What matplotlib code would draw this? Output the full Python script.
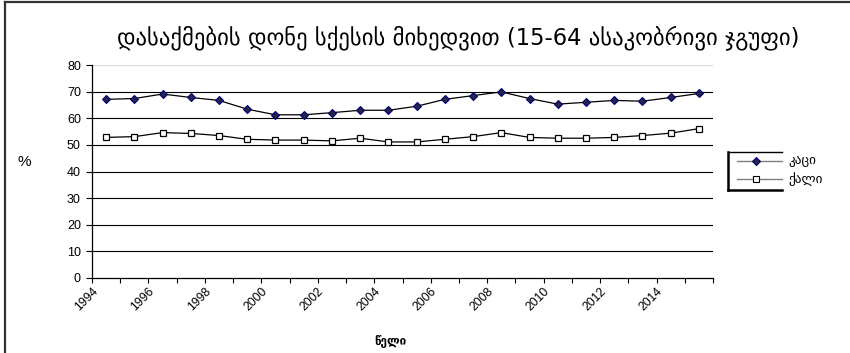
import numpy as np
import matplotlib
matplotlib.use("Agg")
import matplotlib.pyplot as plt
from matplotlib.lines import Line2D

# დასაქმების დონე, %
years = list(range(1994, 2016))
men = [67.1, 67.4, 69.1, 67.8, 66.7, 63.4, 61.3, 61.3, 62.1, 63.0, 63.0,
       64.5, 67.1, 68.5, 69.9, 67.4, 65.3, 66.0, 66.7, 66.4, 67.8, 69.3]
women = [52.8, 53.1, 54.6, 54.3, 53.5, 52.1, 51.8, 51.8, 51.5, 52.5, 51.1,
         51.1, 52.1, 53.1, 54.6, 52.8, 52.5, 52.5, 52.8, 53.5, 54.4, 56.1]
series_names = ["კაცი", "ქალი"]

title = "დასაქმების დონე სქესის მიხედვით (15-64 ასაკობრივი ჯგუფი)"
geo_font = ["DejaVu Sans"]
num_font = ["Liberation Sans", "DejaVu Sans"]

W, H = 850, 353
fig = plt.figure(figsize=(W / 100, H / 100), dpi=100)
fig.patch.set_facecolor("white")
fy = lambda v: 1 - v / H

# outer chart frame: left and top edges
fig.lines.append(Line2D([4.5 / W] * 2, [0, fy(1.5)], transform=fig.transFigure,
                        color="#333333", linewidth=1.6))
fig.lines.append(Line2D([4.5 / W, 1], [fy(1.5)] * 2, transform=fig.transFigure,
                        color="#333333", linewidth=1.6))

ax = fig.add_axes([92 / W, 75 / H, (713 - 92) / W, (278 - 65) / H])

x = np.arange(len(years)) + 0.5
ax.plot(x, men, color="black", linewidth=0.9, marker="D", markersize=4.3,
        markerfacecolor="#262640", markeredgecolor="#000080", markeredgewidth=0.8)
ax.plot(x, women, color="black", linewidth=0.9, marker="s", markersize=5.0,
        markerfacecolor="white", markeredgecolor="black", markeredgewidth=0.9)

ax.set_xlim(0, len(years))
ax.set_ylim(0, 80)
yt = np.arange(0, 81, 10)
ax.set_yticks(yt)
for v in yt[1:]:
    ax.axhline(v, color="#d8d8d8" if v == 80 else "black", linewidth=0.8, zorder=0)

ticks = np.arange(len(years) + 1)
ax.set_xticks(ticks)
ax.set_xticklabels([str(years[0] + t) if t % 2 == 0 and t < len(years) else "" for t in ticks],
                   rotation=45, ha="right", va="top", rotation_mode="anchor",
                   family=num_font, fontsize=8.8)
ax.set_yticklabels([str(v) for v in yt], family=num_font, fontsize=9)
ax.tick_params(axis="x", direction="out", length=3.5, width=0.8, pad=2)
ax.tick_params(axis="y", direction="out", length=4, width=0.8, pad=4)

for s in ["top", "right"]:
    ax.spines[s].set_visible(False)
for s in ["left", "bottom"]:
    ax.spines[s].set_linewidth(0.9)
    ax.spines[s].set_color("black")

fig.text(458 / W, fy(38), title, ha="center", va="center",
         family=geo_font, fontsize=16.3)
fig.text(24 / W, fy(162), "%", ha="center", va="center",
         family=num_font, fontsize=11)
fig.text(390 / W, fy(341), "წელი", ha="center", va="center",
         family=geo_font, fontsize=8.5, fontweight="bold")

# legend block
lx0, lx1 = 728, 782
ly_top, ly_bot = 151.5, 190
fig.lines.append(Line2D([lx0 / W, lx1 / W], [fy(ly_top)] * 2, transform=fig.transFigure,
                        color="black", linewidth=1.0))
fig.lines.append(Line2D([lx0 / W, lx1 / W], [fy(ly_bot)] * 2, transform=fig.transFigure,
                        color="black", linewidth=1.8))
fig.lines.append(Line2D([lx0 / W] * 2, [fy(ly_top), fy(ly_bot)], transform=fig.transFigure,
                        color="black", linewidth=1.8))
styles = [dict(marker="D", markersize=4.3, markerfacecolor="#262640", markeredgecolor="#000080"),
          dict(marker="s", markersize=5.0, markerfacecolor="white", markeredgecolor="black")]
for name, st, yy in zip(series_names, styles, [161, 179]):
    fig.lines.append(Line2D([737 / W, 782 / W], [fy(yy)] * 2, transform=fig.transFigure,
                            color="#808080", linewidth=1.0))
    fig.lines.append(Line2D([756 / W], [fy(yy)], transform=fig.transFigure,
                            linestyle="none", markeredgewidth=0.8, **st))
    fig.text(788 / W, fy(yy), name, ha="left", va="center", family=geo_font, fontsize=9.5)

fig.savefig("out.png", dpi=100)
